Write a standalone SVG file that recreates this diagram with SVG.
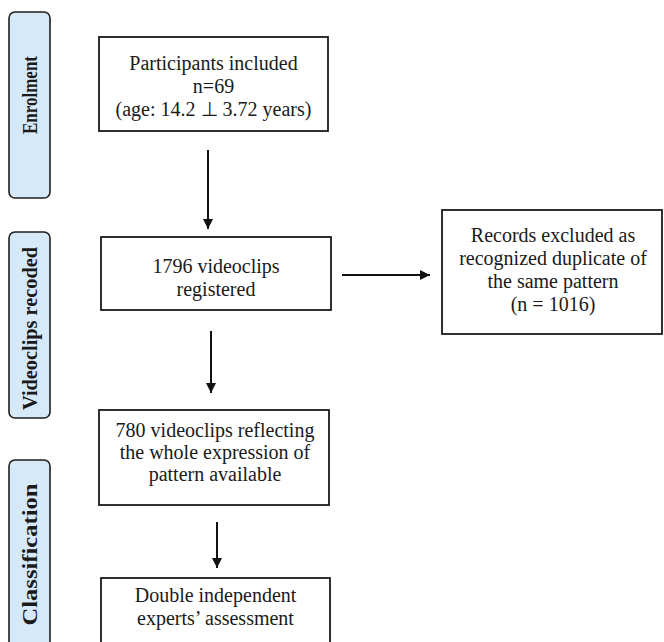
<svg xmlns="http://www.w3.org/2000/svg" width="664" height="642" viewBox="0 0 664 642">
<defs>
<style>
.side{fill:#d6e9f8;stroke:#1e1e1e;stroke-width:1.6}
.sl{font-family:"Liberation Serif","Times New Roman",serif;font-weight:bold;font-size:20px;fill:#1a1a1a;text-anchor:middle}
.box{fill:#ffffff;stroke:#1a1a1a;stroke-width:1.8}
.t{font-family:"Liberation Serif","Times New Roman",serif;font-size:20px;fill:#1a1a1a;text-anchor:middle}
.ln{stroke:#111;stroke-width:2;fill:none}
</style>
<marker id="ah" viewBox="0 0 10 10" refX="10" refY="5" markerWidth="5" markerHeight="5" markerUnits="strokeWidth" orient="auto">
<path d="M0,0 L10,5 L0,10 z" fill="#111"/>
</marker>
</defs>
<rect width="664" height="642" fill="#ffffff"/>
<g id="stage-enrolment">
<rect class="side" x="9" y="12" width="41" height="186" rx="6"/>
<text class="sl" transform="translate(37,95) rotate(-90)" textLength="78" lengthAdjust="spacingAndGlyphs">Enrolment</text>
</g>
<g id="stage-videoclips">
<rect class="side" x="9" y="232" width="41" height="186" rx="6"/>
<text class="sl" transform="translate(37,328.5) rotate(-90)" textLength="163" lengthAdjust="spacingAndGlyphs">Videoclips recoded</text>
</g>
<g id="stage-classification">
<rect class="side" x="9" y="460" width="41" height="196" rx="6"/>
<text class="sl" transform="translate(37,554.5) rotate(-90)" textLength="142" lengthAdjust="spacingAndGlyphs">Classification</text>
</g>
<g id="participants">
<rect class="box" x="99" y="37" width="229" height="94"/>
<text class="t" x="213.5" y="70">Participants included</text>
<text class="t" x="213.5" y="93">n=69</text>
<text class="t" x="213.5" y="116">(age: 14.2 ⊥ 3.72 years)</text>
</g>
<g id="registered">
<rect class="box" x="101" y="237" width="230" height="73"/>
<text class="t" x="216" y="273">1796 videoclips</text>
<text class="t" x="216" y="296">registered</text>
</g>
<g id="excluded">
<rect class="box" x="442" y="210" width="220" height="124"/>
<text class="t" x="553" y="242">Records excluded as</text>
<text class="t" x="553" y="265">recognized duplicate of</text>
<text class="t" x="553" y="288">the same pattern</text>
<text class="t" x="553" y="311">(n = 1016)</text>
</g>
<g id="available">
<rect class="box" x="99" y="410" width="230" height="95"/>
<text class="t" x="215" y="437">780 videoclips reflecting</text>
<text class="t" x="215" y="459">the whole expression of</text>
<text class="t" x="215" y="481">pattern available</text>
</g>
<g id="assessment">
<rect class="box" x="101" y="578" width="229" height="80"/>
<text class="t" x="215.5" y="602">Double independent</text>
<text class="t" x="215.5" y="625">experts’ assessment</text>
</g>
<g id="connectors">
<line class="ln" x1="208" y1="150" x2="208" y2="229" marker-end="url(#ah)"/>
<line class="ln" x1="342" y1="275" x2="430" y2="275" marker-end="url(#ah)"/>
<line class="ln" x1="211" y1="331" x2="211" y2="393" marker-end="url(#ah)"/>
<line class="ln" x1="217" y1="522" x2="217" y2="568" marker-end="url(#ah)"/>
</g>
</svg>
